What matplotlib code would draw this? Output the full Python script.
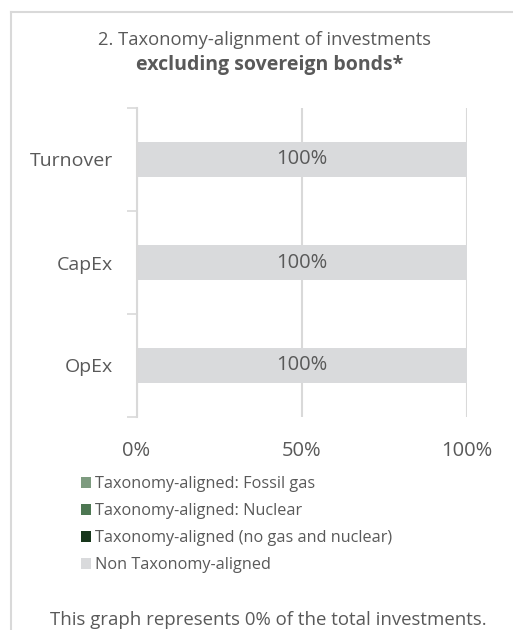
import matplotlib
matplotlib.use('Agg')
import matplotlib.pyplot as plt
from matplotlib.patches import Patch
from matplotlib.lines import Line2D
import numpy as np

categories = ['Turnover', 'CapEx', 'OpEx']
fossilGas = [0, 0, 0]
nuclear = [0, 0, 0]
alignedOther = [0, 0, 0]
nonAligned = [100, 100, 100]
seriesNames = ['Taxonomy-aligned: Fossil gas', 'Taxonomy-aligned: Nuclear',
               'Taxonomy-aligned (no gas and nuclear)', 'Non Taxonomy-aligned']
seriesColors = ['#7d9b7f', '#4d7752', '#17361b', '#d9dadc']
xTicks = [0, 50, 100]

TXT = '#595959'
GRID = '#d9d9d9'
SANS = ['Open Sans', 'DejaVu Sans']

fig = plt.figure(figsize=(5.13, 6.3), dpi=100)
ax = fig.add_axes([136.5 / 513, 1 - 417 / 630, (467 - 136.5) / 513, (417 - 108) / 630])

yPos = np.arange(len(categories))[::-1]
left = np.zeros(len(categories))
for name, vals, col in zip(seriesNames, [fossilGas, nuclear, alignedOther, nonAligned], seriesColors):
    bars = ax.barh(yPos, vals, left=left, height=0.345, color=col, label=name, zorder=2)
    labels = [f'{v:.0f}%' if v > 0 else '' for v in vals]
    ax.bar_label(bars, labels=labels, label_type='center', color=TXT, fontsize=14.5, family=SANS)
    left += np.array(vals)

ax.set_xlim(0, 100)
ax.set_ylim(-0.5, len(categories) - 0.5)
ax.set_xticks(xTicks)
ax.set_xticklabels([f'{t}%' for t in xTicks], color=TXT, fontsize=14.5, family=SANS)
ax.set_yticks(yPos)
ax.set_yticklabels(categories, color=TXT, fontsize=14, family=SANS)
ax.set_yticks(np.arange(-0.5, len(categories), 1), minor=True)
ax.tick_params(axis='x', length=0, pad=17)
ax.tick_params(axis='y', which='major', length=0, pad=17)
ax.tick_params(axis='y', which='minor', length=7, color=GRID, width=1.2)
ax.grid(axis='x', color=GRID, linewidth=1.5, zorder=0)
for s in ['top', 'right', 'bottom']:
    ax.spines[s].set_visible(False)
ax.spines['left'].set_color(GRID)
ax.spines['left'].set_linewidth(1.5)

fig.text(264 / 513, 1 - 40 / 630, '2. Taxonomy-alignment of investments', ha='center', va='center',
         color=TXT, fontsize=13.2, family=SANS)
fig.text(270 / 513, 1 - 65 / 630, 'excluding sovereign bonds*', ha='center', va='center',
         color=TXT, fontsize=14, family=SANS, fontweight='bold')

handles = [Patch(facecolor=c, edgecolor='none') for c in seriesColors]
fig.legend(handles, seriesNames, loc='upper left', bbox_to_anchor=(81 / 513, 1 - 476 / 630),
           frameon=False, prop={'family': SANS, 'size': 11.7},
           handlelength=0.62, handleheight=0.62, handletextpad=0.22, labelspacing=0.68,
           labelcolor=TXT, borderaxespad=0, borderpad=0)

fig.text(268 / 513, 1 - 620 / 630, 'This graph represents 0% of the total investments.', ha='center',
         va='center', color=TXT, fontsize=13.4, family=SANS)

# outer frame, open to the right and bottom
fig.add_artist(Line2D([11 / 513, 1.01], [1 - 12 / 630] * 2, color=GRID, linewidth=1.5, transform=fig.transFigure))
fig.add_artist(Line2D([11 / 513] * 2, [1 - 12 / 630, -0.01], color=GRID, linewidth=1.5, transform=fig.transFigure))

fig.savefig('out.png', dpi=100)
